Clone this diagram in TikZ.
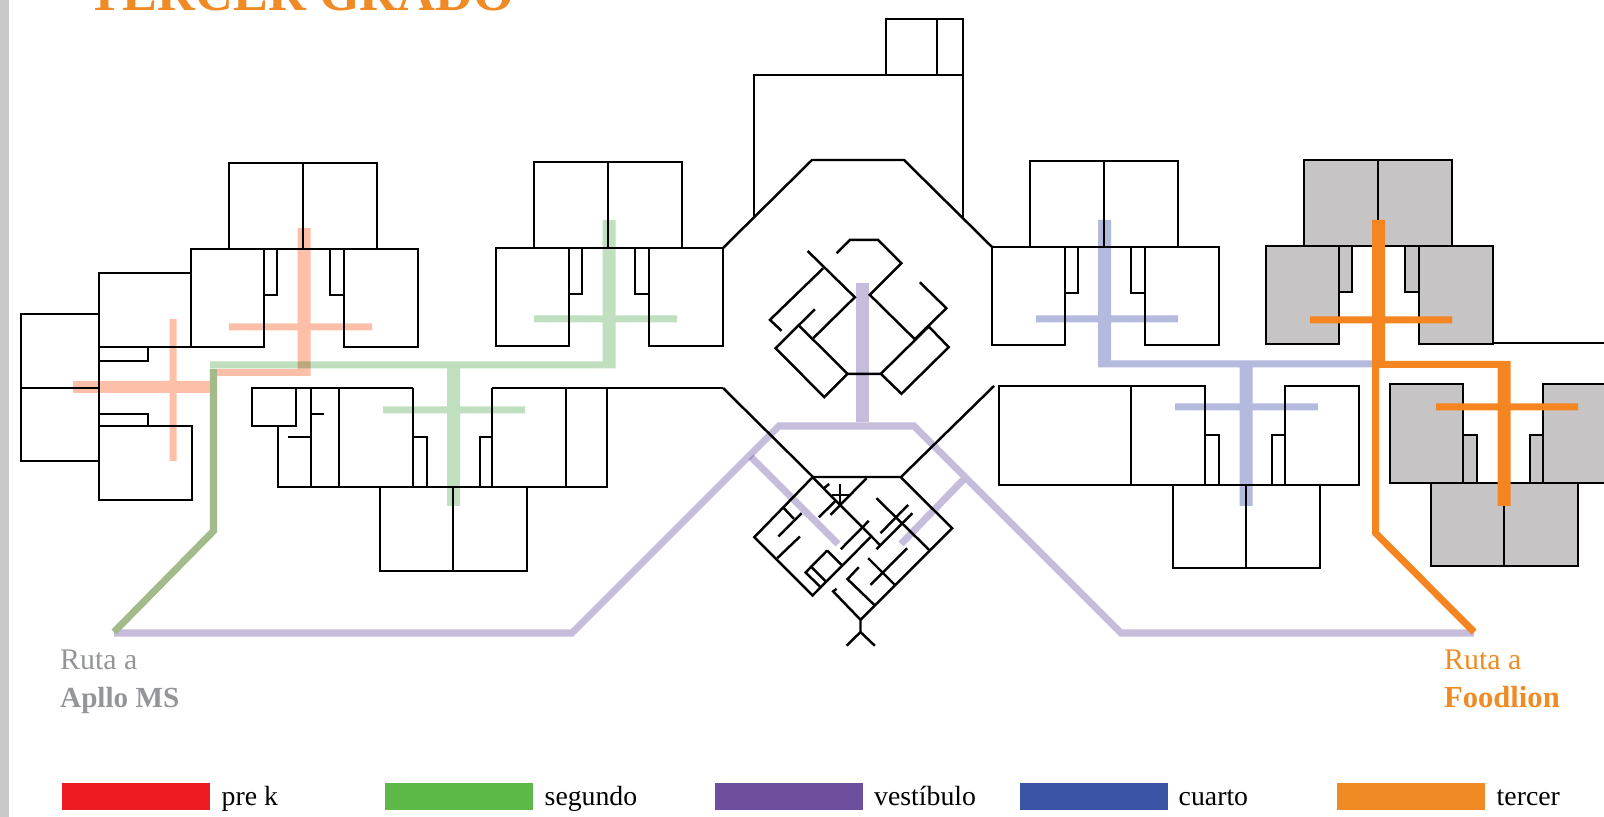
\documentclass[tikz,border=0pt]{standalone}
\usepackage{fontspec}
\setmainfont{Liberation Serif}
\usepackage{tikz}
\definecolor{barcolor}{HTML}{C8C8C8}
\definecolor{roomgray}{HTML}{C6C4C4}
\definecolor{prekroute}{HTML}{FDBFA8}
\definecolor{segroute}{HTML}{C0DFBE}
\definecolor{mixroute}{HTML}{A3BA8B}
\definecolor{vesroute}{HTML}{C6BCDC}
\definecolor{cuaroute}{HTML}{B4B9DE}
\definecolor{terroute}{HTML}{F58520}
\definecolor{labelgray}{HTML}{939598}
\definecolor{labelorange}{HTML}{EF8A24}
\definecolor{prekblk}{HTML}{ED1C24}
\definecolor{segblk}{HTML}{5CB947}
\definecolor{vesblk}{HTML}{6E4E9E}
\definecolor{cuablk}{HTML}{3B53A4}
\definecolor{terblk}{HTML}{EF8A24}
\newcommand{\wing}[3]{%
  \begin{scope}[shift={(#1,#2)}]
    \draw[wall, fill=#3] (229,163) rectangle (377,249);
    \draw[wall] (303,163) -- (303,249);
    \draw[wall, fill=#3] (191,249) rectangle (264,347);
    \draw[wall, fill=#3] (344,249) rectangle (418,347);
    \draw[wall, fill=#3] (264,249) rectangle (277,295);
    \draw[wall, fill=#3] (330,249) rectangle (344,295);
  \end{scope}}
\begin{document}
\begin{tikzpicture}[
  x=0.1mm, y=-0.1mm,
  wall/.style={draw=black, line width=0.7pt, line join=miter},
  thin route/.style={line width=2pt, line join=miter},
  swatch/.style={minimum width=14.8mm, minimum height=2.7mm, inner sep=0pt, anchor=north west},
  legendlbl/.style={font=\fontsize{7.9}{9}\selectfont, anchor=base west, inner sep=0pt},
  rutalbl/.style={font=\fontsize{8.5}{10}\selectfont, anchor=base west, inner sep=0pt},
  destlbl/.style={font=\bfseries\fontsize{8.6}{10}\selectfont, anchor=base west, inner sep=0pt},
]
  \clip (0,0) rectangle (1604,817);
  \fill[barcolor] (0,0) rectangle (9,817);
  \node[font=\bfseries\fontsize{14.9}{17}\selectfont, text=labelorange, anchor=base west, inner sep=0pt] (title) at (87,10.5) {TERCER GRADO};

  % wings
  \wing{0}{0}{white}
  \wing{305}{-1}{white}
  \wing{801}{-2}{white}
  \wing{1075}{-3}{roomgray}

  % far left rooms
  \draw[wall] (21,314) rectangle (99,461);
  \draw[wall] (21,388) -- (99,388);
  \draw[wall] (99,273) rectangle (191,347);
  \draw[wall] (99,426) rectangle (192,500);
  \draw[wall] (99,347) rectangle (148,361);
  \draw[wall] (99,414) rectangle (148,426);

  % lower left block
  \draw[wall] (252,388) rectangle (296,426);
  \draw[wall] (296,388) -- (413,388);
  \draw[wall] (492,388) -- (723,388);
  \draw[wall] (278,426) -- (278,487) -- (607,487) -- (607,388);
  \foreach \wallx in {311,339,413,492,566}
    \draw[wall] (\wallx,388) -- (\wallx,487);
  \draw[wall] (311,414) -- (324,414);
  \draw[wall] (288,437) -- (311,437);
  \draw[wall] (413,437) -| (427,487);
  \draw[wall] (492,437) -| (480,487);
  \draw[wall] (380,487) |- (527,571) -- (527,487);
  \draw[wall] (453,487) -- (453,571);

  % centre hall and annex
  \draw[wall] (723,248) -- (812,160) -- (904,160) -- (992,247);
  \draw[wall] (754,216) |- (963,75) -- (963,218);
  \draw[wall] (886,75) |- (963,19) -- (963,75);
  \draw[wall] (937,19) -- (937,75);
  \draw[wall] (723,388) -- (813,477) -- (901,477) -- (994,386);

  % lower right block
  \draw[wall] (999,386) rectangle (1205,485);
  \draw[wall] (1131,386) -- (1131,485);
  \draw[wall] (1285,386) rectangle (1359,485);
  \draw[wall] (1205,485) -- (1285,485);
  \draw[wall] (1205,435) rectangle (1219,485);
  \draw[wall] (1272,435) rectangle (1285,485);
  \draw[wall] (1173,485) rectangle (1320,568);
  \draw[wall] (1246,485) -- (1246,568);

  % gray block
  \draw[wall] (1492,343) -- (1604,343);
  \draw[wall, fill=roomgray] (1431,483) rectangle (1578,566);
  \draw[wall] (1504,483) -- (1504,566);
  \draw[wall, fill=roomgray] (1390,384) rectangle (1463,483);
  \draw[wall, fill=roomgray] (1463,435) rectangle (1477,483);
  \draw[wall, fill=roomgray] (1530,435) rectangle (1543,483);
  \draw[wall, fill=roomgray] (1543,384) rectangle (1616,483);

  % north pavilion
  \begin{scope}[shift={(720,220)}, x=0.0333mm, y=-0.0333mm]
    \draw[wall] (350,100) -- (390,60) -- (475,60) -- (545,130) -- (450,225) -- (585,358) -- (680,265) -- (600,187);
    \draw[wall] (263,93) -- (405,232) -- (280,355);
    \draw[wall] (310,145) -- (150,300) -- (185,333);
    \draw[wall] (285,268) -- (167,385) -- (313,532) -- (383,462) -- (483,462) -- (545,522) -- (687,382) -- (627,320) -- (483,462);
    \draw[wall] (238,318) -- (383,462);
  \end{scope}

  % south pavilion
  \begin{scope}[shift={(720,420)}, x=0.0333mm, y=-0.0333mm]
    \draw[wall] (278,172) -- (103,352) -- (278,527) -- (452,352);
    \draw[wall] (278,172) -- (480,375);
    \draw[wall] (543,172) -- (697,325) -- (422,600) -- (340,515) -- (350,507);
    \draw[wall] (422,600) -- (422,637) -- (380,678);
    \draw[wall] (422,637) -- (465,678);
    \draw[wall] (440,175) -- (332,285);
    \draw[wall] (297,292) -- (345,245);
    \draw[wall] (335,225) -- (388,225);
    \draw[wall] (360,192) -- (360,258);
    \draw[wall] (310,207) -- (328,192);
    \draw[wall] (190,263) -- (222,297);
    \draw[wall] (175,350) -- (245,280);
    \draw[wall] (172,415) -- (240,350);
    \draw[wall] (363,388) -- (447,303);
    \draw[wall] (470,235) -- (630,392);
    \draw[wall] (482,340) -- (565,255);
    \draw[wall] (470,388) -- (578,280);
    \draw[wall] (445,415) -- (527,497);
    \draw[wall] (452,495) -- (562,385);
    \draw[wall] (417,442) -- (383,478) -- (465,557);
    \draw[wall] (322,392) -- (365,435);
    \draw[wall] (322,392) -- (257,458) -- (300,500);
    \draw[wall] (275,442) -- (318,485);
  \end{scope}

  % routes
  \begin{scope}[blend mode=multiply]
    \fill[prekroute] (73,381) rectangle (210,393)
      (169.5,319) rectangle (176.5,461)
      (297.5,228) rectangle (310.5,376)
      (229,323.5) rectangle (372,330.5)
      (217,369) rectangle (310,376);
    \fill[segroute] (602.5,220) rectangle (615.5,368.5)
      (534,315.5) rectangle (677,322.5)
      (210,361.5) rectangle (602.5,368.5)
      (447,368.5) rectangle (460,506)
      (383,406.5) rectangle (525,413.5);
    \fill[cuaroute] (1098,220) rectangle (1111,367.5)
      (1036,315.5) rectangle (1178,322.5)
      (1111,360.5) rectangle (1372,367.5)
      (1239.5,367.5) rectangle (1252.5,506)
      (1175,403.5) rectangle (1318,410.5);
    \fill[vesroute] (856,283) rectangle (869,422.5);
    \draw[vesroute, thin route] (114,633) -- (572,633) -- (779,426) -- (914,426) -- (1121,633) -- (1474,633);
    \draw[vesroute, thin route] (751,457) -- (838,544);
    \draw[vesroute, thin route] (963,480) -- (901,544);
  \end{scope}

  \draw[mixroute, thin route] (213.5,369) -- (213.5,531) -- (114,632);

  \fill[terroute] (1372,220) rectangle (1385,361)
    (1310,316.5) rectangle (1452,323.5)
    (1372,361) rectangle (1510.5,368)
    (1497.5,361) rectangle (1510.5,506)
    (1436,403.5) rectangle (1578,410.5);
  \draw[terroute, thin route] (1375.5,361) -- (1375.5,533) -- (1474,632);

  % route labels
  \node[rutalbl, text=labelgray] (rutaA) at (59.5,669) {Ruta a};
  \node[destlbl, text=labelgray, font=\bfseries\fontsize{8.3}{10}\selectfont] (apllo) at (59.5,707) {Apllo MS};
  \node[rutalbl, text=labelorange] (rutaF) at (1443.5,669) {Ruta a};
  \node[destlbl, text=labelorange, font=\bfseries\fontsize{8.7}{10}\selectfont] (foodlion) at (1443.5,707) {Foodlion};

  % legend
  \node[swatch, fill=prekblk] (prek) at (61,782) {};
  \node[swatch, fill=segblk] (seg) at (384,782) {};
  \node[swatch, fill=vesblk] (ves) at (714.5,782) {};
  \node[swatch, fill=cuablk] (cua) at (1019.5,782) {};
  \node[swatch, fill=terblk] (ter) at (1336.5,782) {};
  \node[legendlbl] (prektxt) at (221,805.5) {pre k};
  \node[legendlbl] (segtxt) at (544,805.5) {segundo};
  \node[legendlbl] (vestxt) at (873.5,805.5) {vestíbulo};
  \node[legendlbl] (cuatxt) at (1178,805.5) {cuarto};
  \node[legendlbl] (tertxt) at (1496,805.5) {tercer};
\end{tikzpicture}
\end{document}
